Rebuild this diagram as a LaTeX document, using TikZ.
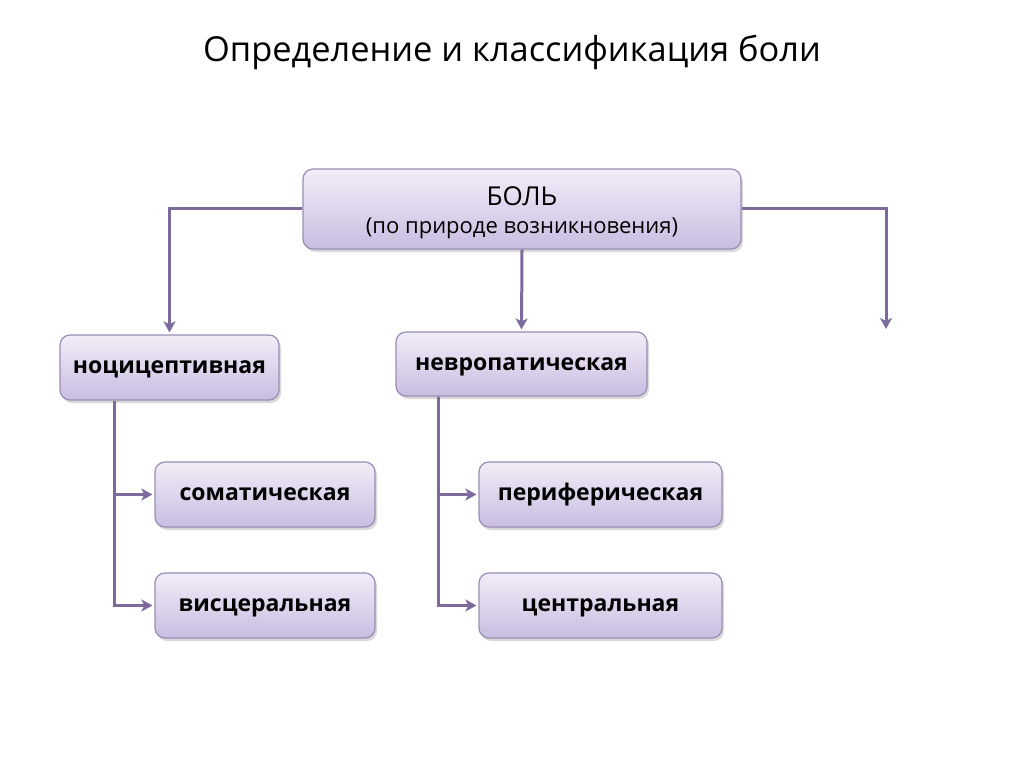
\documentclass[tikz,border=0pt]{standalone}
\usepackage{fontspec}
\setmainfont{Open Sans}
\usetikzlibrary{arrows.meta,shadows,positioning}
\definecolor{boxtop}{HTML}{F2EDF8}
\definecolor{boxbot}{HTML}{C9BDE1}
\definecolor{boxline}{HTML}{9A8DB5}
\definecolor{arrcol}{HTML}{7D6B9E}
\tikzset{
  pbox/.style={draw=boxline, line width=1.2pt, rounded corners=10pt,
    top color=boxtop, bottom color=boxbot, inner sep=0pt,
    drop shadow={shadow xshift=2pt, shadow yshift=-3pt, opacity=0.25, fill=black!60},
    font=\fontsize{23}{26}\selectfont\bfseries},
  lbl/.style={text height=12.5pt, text depth=0pt},
  arr/.style={draw=arrcol, line width=3pt,
    -{Stealth[length=11pt,width=12pt,inset=3pt]}, shorten >=2pt},
}
\begin{document}
\begin{tikzpicture}[x=1pt,y=-1pt]
\useasboundingbox[fill=white] (0,0) rectangle (1024,767);
\node (title) at (512,52) {\fontsize{34.4}{40}\selectfont Определение и классификация боли};
\node[pbox, minimum width=438pt, minimum height=80pt] (bol) at (522,209) {};
\node (boltxt) at (522,196) {\fontsize{26}{30}\selectfont БОЛЬ};
\node (bolsub) at (522,228) {\fontsize{22}{26}\selectfont (по природе возникновения)};
\node[pbox, lbl, minimum width=219pt, minimum height=65pt] (noc) at (169.5,367.5) {ноцицептивная};
\node[pbox, lbl, minimum width=251pt, minimum height=64pt] (nev) at (521.5,364) {невропатическая};
\node[pbox, lbl, minimum width=220pt, minimum height=65pt] (som) at (265,494.5) {соматическая};
\node[pbox, lbl, minimum width=220pt, minimum height=65pt] (vis) at (265,605.5) {висцеральная};
\node[pbox, lbl, minimum width=243pt, minimum height=65pt] (per) at (600.5,494.5) {периферическая};
\node[pbox, lbl, minimum width=243pt, minimum height=65pt] (cen) at (600.5,605.5) {центральная};
\coordinate (rend) at (886,331);
\draw[arr] (bol.west) -| (noc.north);
\draw[arr] (bol.south) -- (nev.north);
\draw[arr] (bol.east) -| (rend);
\draw[arr] ([xshift=55pt]noc.south west) |- (som.west);
\draw[arr] ([xshift=55pt]noc.south west) |- (vis.west);
\draw[arr] ([xshift=43pt]nev.south west) |- (per.west);
\draw[arr] ([xshift=43pt]nev.south west) |- (cen.west);
\end{tikzpicture}
\end{document}
